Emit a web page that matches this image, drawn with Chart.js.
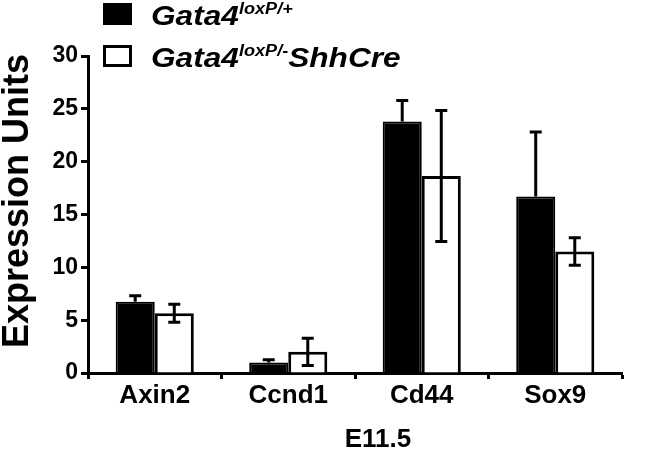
<!DOCTYPE html>
<html lang="en">
<head>
  <meta charset="UTF-8">
  <title>Expression Units E11.5</title>
  <script src="https://cdn.jsdelivr.net/npm/chart.js"></script>
  <style>
    body { margin: 0; background: #fff; }
    #wrap { position: relative; width: 664px; height: 453px; }
    .leg { position: absolute; left: 151px; font: italic bold 28px "Liberation Sans", Arial, sans-serif; color: #000;
           white-space: nowrap; line-height: 1; transform: scaleX(1.13); transform-origin: left center; }
    .leg sup { font-size: 16px; position: relative; top: -1px; vertical-align: top; }
    .box { position: absolute; left: 103px; width: 29px; height: 22px; box-sizing: border-box; border: 3px solid #000; }
    .axt { position: absolute; font: bold 26px "Liberation Sans", Arial, sans-serif; color: #000; text-align: center; white-space: nowrap; }
  </style>
</head>
<body>
  <div id="wrap">
    <canvas id="myChart" width="664" height="453"></canvas>
    <!-- legenda: felső index miatt HTML-ben -->
    <div class="box" style="top:3px;background:#000"></div>
    <div class="leg" style="top:2px">Gata4<sup>loxP/+</sup></div>
    <div class="box" style="top:45px;background:#fff"></div>
    <div class="leg" style="top:44px">Gata4<sup>loxP/-</sup>ShhCre</div>
    <!-- tengelycímek -->
    <div class="axt" style="left:-144px;top:183px;width:320px;line-height:36px;font-size:36px;transform:rotate(-90deg)">Expression Units</div>
    <div class="axt" style="left:278px;top:425px;width:200px;line-height:26px">E11.5</div>
  </div>
  <script>
    // adatok
    const categories = ['Axin2', 'Ccnd1', 'Cd44', 'Sox9'];
    const controlValues = [6.75, 1.0, 23.8, 16.7];
    const controlErr = [0.55, 0.25, 2.0, 6.1];
    const mutantValues = [5.65, 2.0, 18.65, 11.5];
    const mutantErr = [0.85, 1.3, 6.2, 1.3];
    const yTicks = [0, 5, 10, 15, 20, 25, 30];

    const FONT = '"Liberation Sans", Arial, sans-serif';

    // hibasávok rajzolása
    const errorBars = {
      id: 'errorBars',
      afterDatasetsDraw(chart) {
        const ctx = chart.ctx;
        const y = chart.scales.y;
        ctx.save();
        ctx.strokeStyle = '#000';
        ctx.lineWidth = 3;
        chart.data.datasets.forEach((ds, di) => {
          const meta = chart.getDatasetMeta(di);
          meta.data.forEach((bar, i) => {
            const v = ds.data[i], e = ds.err[i];
            const top = y.getPixelForValue(v + e);
            const bot = ds.bothSides ? y.getPixelForValue(v - e) : y.getPixelForValue(v);
            ctx.beginPath();
            ctx.moveTo(bar.x, top); ctx.lineTo(bar.x, bot);
            ctx.moveTo(bar.x - 6, top); ctx.lineTo(bar.x + 6, top);
            if (ds.bothSides) { ctx.moveTo(bar.x - 6, bot); ctx.lineTo(bar.x + 6, bot); }
            ctx.stroke();
          });
        });
        ctx.restore();
      }
    };

    const chart = new Chart(document.getElementById('myChart'), {
      type: 'bar',
      data: {
        labels: categories,
        datasets: [
          { label: 'Gata4 loxP/+', data: controlValues, err: controlErr, bothSides: false,
            backgroundColor: '#000', borderColor: '#000', borderWidth: 2 },
          { label: 'Gata4 loxP/- ShhCre', data: mutantValues, err: mutantErr, bothSides: true,
            backgroundColor: '#fff', borderColor: '#000', borderWidth: 3 }
        ]
      },
      options: {
        responsive: false,
        animation: false,
        layout: { padding: { left: 0, right: 42, top: 56, bottom: 0 } },
        datasets: { bar: { barPercentage: 1, categoryPercentage: 0.585, borderSkipped: 'start' } },
        plugins: { legend: { display: false }, tooltip: { enabled: false } },
        scales: {
          y: {
            min: 0, max: 30,
            afterBuildTicks: s => { s.ticks = yTicks.map(v => ({ value: v })); },
            afterFit: s => { s.width = 88; },
            ticks: { color: '#000', font: { family: FONT, weight: 'bold', size: 23 }, padding: 3 },
            grid: { drawOnChartArea: false, tickLength: 7, tickWidth: 3, tickColor: '#000' },
            border: { color: '#000', width: 3 }
          },
          x: {
            afterFit: s => { s.height = 80; },
            ticks: { color: '#000', font: { family: FONT, weight: 'bold', size: 26 }, padding: 1 },
            grid: { drawOnChartArea: false, offset: true, tickLength: 6, tickWidth: 3, tickColor: '#000' },
            border: { color: '#000', width: 3 }
          }
        }
      },
      plugins: [errorBars]
    });
  </script>
</body>
</html>
